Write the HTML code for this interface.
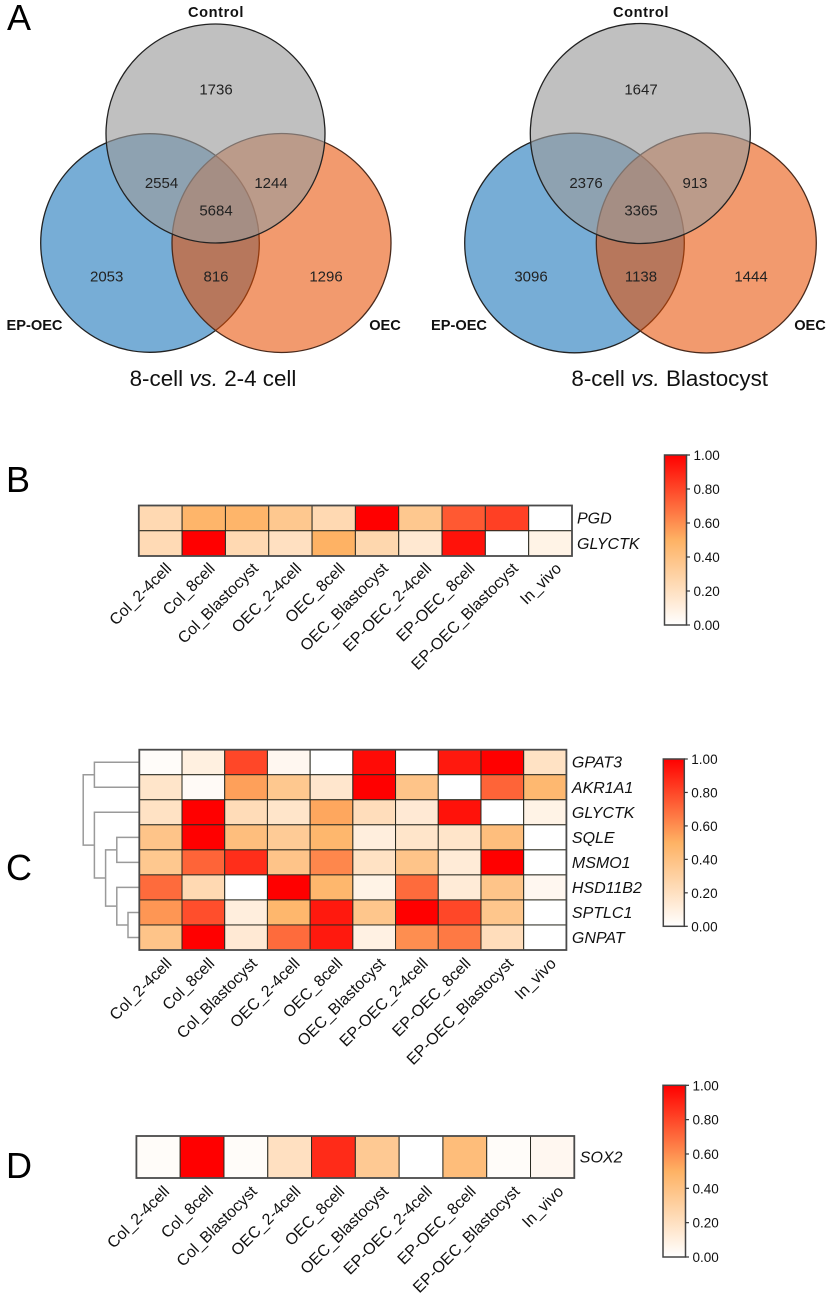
<!DOCTYPE html>
<html lang="en">
<head>
<meta charset="utf-8">
<title>Venn diagrams and heatmaps</title>
<style>
html,body{margin:0;padding:0;background:#fff;}
svg{display:block;font-family:"Liberation Sans",Arial,sans-serif;}
</style>
</head>
<body>
<svg id="figure" xmlns="http://www.w3.org/2000/svg" width="830" height="1293" viewBox="0 0 830 1293">
  <defs>
    <linearGradient id="colorbar-gradient" x1="0" y1="1" x2="0" y2="0">
      <stop offset="0" stop-color="#ffffff"/>
      <stop offset="0.5" stop-color="#feb264"/>
      <stop offset="1" stop-color="#ff0000"/>
    </linearGradient>
  </defs>
  <rect width="830" height="1293" fill="#fff"/>

  <text x="7" y="30" font-size="36" fill="#000">A</text>
  <text x="6" y="492" font-size="36" fill="#000">B</text>
  <text x="6" y="880" font-size="36" fill="#000">C</text>
  <text x="6" y="1178" font-size="36" fill="#000">D</text>

  <g>
    <circle cx="150" cy="243" r="109.3" fill="#77add6" stroke="#222" stroke-width="1.3"/>
    <circle cx="281.5" cy="243" r="109.5" fill="#e94d00" fill-opacity="0.57" stroke="#4a2a1c" stroke-width="1.3"/>
    <circle cx="215.5" cy="133.5" r="109.5" fill="#9b9b9b" fill-opacity="0.63" stroke="#222" stroke-width="1.3"/>
    <g font-size="15" fill="#222" text-anchor="middle">
      <text x="216" y="94.5">1736</text>
      <text x="161.5" y="188">2554</text>
      <text x="271" y="188">1244</text>
      <text x="216" y="215.5">5684</text>
      <text x="106.7" y="281.5">2053</text>
      <text x="216" y="281.5">816</text>
      <text x="326" y="281.5">1296</text>
    </g>
    <g font-size="14.6" font-weight="bold" fill="#111" text-anchor="middle">
      <text x="216" y="17" letter-spacing="0.6">Control</text>
      <text x="34.5" y="330">EP-OEC</text>
      <text x="385" y="330">OEC</text>
    </g>
    <text x="213" y="386" font-size="22.4" fill="#111" text-anchor="middle">8-cell <tspan font-style="italic">vs.</tspan> 2-4 cell</text>
  </g>

  <g>
    <circle cx="574.5" cy="243" r="109.8" fill="#77add6" stroke="#222" stroke-width="1.3"/>
    <circle cx="706.3" cy="243" r="110" fill="#e94d00" fill-opacity="0.57" stroke="#4a2a1c" stroke-width="1.3"/>
    <circle cx="640.3" cy="133.5" r="110" fill="#9b9b9b" fill-opacity="0.63" stroke="#222" stroke-width="1.3"/>
    <g font-size="15" fill="#222" text-anchor="middle">
      <text x="641" y="94.5">1647</text>
      <text x="586" y="188">2376</text>
      <text x="695" y="188">913</text>
      <text x="641" y="215.5">3365</text>
      <text x="531" y="281.5">3096</text>
      <text x="641" y="281.5">1138</text>
      <text x="751" y="281.5">1444</text>
    </g>
    <g font-size="14.6" font-weight="bold" fill="#111" text-anchor="middle">
      <text x="641" y="17" letter-spacing="0.6">Control</text>
      <text x="459" y="330">EP-OEC</text>
      <text x="810" y="330">OEC</text>
    </g>
    <text x="669.7" y="386" font-size="22.4" fill="#111" text-anchor="middle">8-cell <tspan font-style="italic">vs.</tspan> Blastocyst</text>
  </g>
</svg>

<script>
var columnLabels = ["Col_2-4cell","Col_8cell","Col_Blastocyst","OEC_2-4cell","OEC_8cell","OEC_Blastocyst","EP-OEC_2-4cell","EP-OEC_8cell","EP-OEC_Blastocyst","In_vivo"];
var colorbarTicks = [0, 0.2, 0.4, 0.6, 0.8, 1];

var panelBRows = ["PGD","GLYCTK"];
var panelBValues = [
  [0.25,0.48,0.48,0.36,0.25,1.00,0.36,0.75,0.82,0.00],
  [0.24,1.00,0.25,0.20,0.50,0.26,0.15,0.95,0.00,0.08]
];

var panelCRows = ["GPAT3","AKR1A1","GLYCTK","SQLE","MSMO1","HSD11B2","SPTLC1","GNPAT"];
var panelCValues = [
  [0.02,0.10,0.80,0.05,0.00,0.97,0.00,0.93,1.00,0.19],
  [0.17,0.03,0.55,0.36,0.16,1.00,0.38,0.00,0.72,0.46],
  [0.19,1.00,0.23,0.17,0.53,0.22,0.14,0.95,0.00,0.08],
  [0.38,1.00,0.42,0.34,0.47,0.11,0.17,0.17,0.42,0.00],
  [0.36,0.72,0.87,0.38,0.62,0.19,0.38,0.13,1.00,0.00],
  [0.70,0.25,0.00,1.00,0.47,0.08,0.70,0.13,0.38,0.05],
  [0.58,0.78,0.11,0.47,0.93,0.37,1.00,0.80,0.37,0.00],
  [0.38,1.00,0.14,0.70,0.93,0.09,0.60,0.66,0.22,0.00]
];
var panelCTree = [[0,1],[2,[[3,4],[5,[6,7]]]]];

var panelDRows = ["SOX2"];
var panelDValues = [
  [0.02,1.00,0.02,0.20,0.88,0.35,0.00,0.43,0.02,0.05]
];

var NS = "http://www.w3.org/2000/svg";
var figure = document.getElementById("figure");

function make(parent, tag, attrs, text) {
  var el = document.createElementNS(NS, tag);
  for (var k in attrs) { el.setAttribute(k, attrs[k]); }
  if (text !== undefined) { el.textContent = text; }
  parent.appendChild(el);
  return el;
}

function mix(a, b, t) {
  return Math.round(a + (b - a) * t);
}

function valueColor(v) {
  var c = Math.max(0, Math.min(1, v));
  if (c <= 0.5) {
    var t = c / 0.5;
    return "rgb(" + mix(255,254,t) + "," + mix(255,178,t) + "," + mix(255,100,t) + ")";
  }
  var u = (c - 0.5) / 0.5;
  return "rgb(" + mix(254,255,u) + "," + mix(178,0,u) + "," + mix(100,0,u) + ")";
}

function drawHeatmap(panel, box, rows, values) {
  var g = make(figure, "g", {});
  
  
  var cw = (box.x1 - box.x0) / columnLabels.length;
  var ch = (box.y1 - box.y0) / rows.length;
  var xScale = function (i) { return box.x0 + i * cw; };
  var yScale = function (j) { return box.y0 + j * ch; };

  values.forEach(function (row, j) {
    row.forEach(function (v, i) {
      var cell = make(g, "rect", {
        x: xScale(i), y: yScale(j), width: cw, height: ch,
        fill: valueColor(v), stroke: "#2a2a20", "stroke-width": 1
      });
      
      
    });
  });

  var frame = make(g, "rect", {
    x: box.x0, y: box.y0, width: box.x1 - box.x0, height: box.y1 - box.y0,
    fill: "none", stroke: "#4a4a4a", "stroke-width": 1.8
  });
  
  

  rows.forEach(function (name, j) {
    var label = make(g, "text", {
      x: box.x1 + box.rowGap, y: yScale(j) + ch / 2 + 5.5,
      "font-size": 16, "font-style": "italic", fill: "#111"
    }, name);
    
    
  });

  columnLabels.forEach(function (name, i) {
    var ax = xScale(i) + cw / 2 + 12;
    var ay = box.y1 + box.colGap;
    var label = make(g, "text", {
      x: ax, y: ay, "font-size": 16, fill: "#111", "text-anchor": "end",
      transform: "rotate(-45 " + ax + " " + ay + ")"
    }, name);
    
    
  });
}

function drawColorbar(panel, bar) {
  var g = make(figure, "g", {});
  
  
  var yScale = function (v) { return bar.y1 + (bar.y0 - bar.y1) * v; };
  var ramp = make(g, "rect", {
    x: bar.x0, y: bar.y0, width: bar.x1 - bar.x0, height: bar.y1 - bar.y0,
    fill: "url(#colorbar-gradient)", stroke: "#444", "stroke-width": 1.5
  });
  
  
  colorbarTicks.forEach(function (v) {
    var tick = make(g, "line", {
      x1: bar.x1, x2: bar.x1 + 3.5, y1: yScale(v), y2: yScale(v),
      stroke: "#333", "stroke-width": 1.2
    });
    
    
    var label = make(g, "text", {
      x: bar.x1 + 7, y: yScale(v) + 5, "font-size": 13.5, fill: "#111"
    }, v.toFixed(2));
    
    
  });
}

function drawDendrogram(tree, box, rowCount) {
  var g = make(figure, "g", {});
  
  
  var ch = (box.y1 - box.y0) / rowCount;
  var depthX = function (d) { return 83.2 + 11.2 * d; };
  function walk(node, depth) {
    if (typeof node === "number") {
      return { x: box.x0, y: box.y0 + (node + 0.5) * ch };
    }
    var a = walk(node[0], depth + 1);
    var b = walk(node[1], depth + 1);
    var x = depthX(depth);
    var branch = make(g, "path", {
      d: "M" + a.x + " " + a.y + "H" + x + "V" + b.y + "H" + b.x,
      fill: "none", stroke: "#9a9a9a", "stroke-width": 1.5
    });
    
    
    return { x: x, y: (a.y + b.y) / 2 };
  }
  walk(tree, 0);
}

var boxB = { x0: 138.8, x1: 572, y0: 505.5, y1: 556, rowGap: 5, colGap: 13.5 };
var boxC = { x0: 139.3, x1: 566.4, y0: 749.7, y1: 950, rowGap: 5.5, colGap: 14.5 };
var boxD = { x0: 136.4, x1: 574.3, y0: 1136, y1: 1178, rowGap: 5.5, colGap: 14.5 };

drawDendrogram(panelCTree, boxC, panelCRows.length);
drawHeatmap("panel-b", boxB, panelBRows, panelBValues);
drawHeatmap("panel-c", boxC, panelCRows, panelCValues);
drawHeatmap("panel-d", boxD, panelDRows, panelDValues);
drawColorbar("panel-b", { x0: 664.5, x1: 686.5, y0: 455, y1: 625 });
drawColorbar("panel-c", { x0: 663.3, x1: 684.3, y0: 759, y1: 926.3 });
drawColorbar("panel-d", { x0: 663, x1: 685.5, y0: 1085.3, y1: 1257 });
</script>
</body>
</html>
